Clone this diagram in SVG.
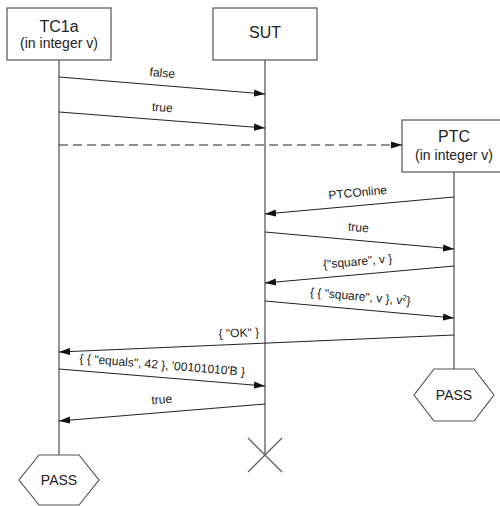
<svg xmlns="http://www.w3.org/2000/svg" width="500" height="506" viewBox="0 0 500 506">
<defs>
<marker id="ah" markerUnits="userSpaceOnUse" markerWidth="12" markerHeight="8" refX="11" refY="4" orient="auto">
<path d="M0,0.4 L11,4 L0,7.6 Z" fill="#111"/>
</marker>
<style>
.box{fill:#fff;stroke:#555;stroke-width:1.2}
.life{stroke:#666;stroke-width:1.4;fill:none}
.msg{stroke:#222;stroke-width:1;fill:none;marker-end:url(#ah)}
.dash{stroke-dasharray:9,5}
.t16{font-family:"Liberation Sans",Arial,sans-serif;font-size:16px;fill:#222;text-anchor:middle}
.t14{font-family:"Liberation Sans",Arial,sans-serif;font-size:14px;fill:#222;text-anchor:middle}
.lbl{font-family:"Liberation Sans",Arial,sans-serif;font-size:12px;fill:#222;text-anchor:middle}
</style>
</defs>
<rect width="500" height="506" fill="#fff"/>
<g id="lifelines">
<line class="life" x1="59" y1="60" x2="59" y2="455"/>
<line class="life" x1="265" y1="60" x2="265" y2="455"/>
<line class="life" x1="454" y1="172" x2="454" y2="369"/>
</g>
<g id="TC1a">
<rect class="box" x="7" y="8" width="104" height="52"/>
<text class="t16" x="59" y="32">TC1a</text>
<text class="t14" x="59" y="48">(in integer v)</text>
</g>
<g id="SUT">
<rect class="box" x="213" y="8" width="104" height="52"/>
<text class="t16" x="265" y="38">SUT</text>
</g>
<g id="PTC">
<rect class="box" x="402" y="120" width="104" height="52"/>
<text class="t16" x="454" y="142">PTC</text>
<text class="t14" x="454" y="160">(in integer v)</text>
</g>
<g id="SUT-stop">
<line class="life" x1="248" y1="438" x2="282" y2="472"/>
<line class="life" x1="282" y1="438" x2="248" y2="472"/>
</g>
<g id="PTC-PASS">
<polygon class="box" points="434,369 474,369 494,395 474,421 434,421 414,395"/>
<text class="t14" x="454" y="400">PASS</text>
</g>
<g id="TC1a-PASS">
<polygon class="box" points="39,455 79,455 99,480 79,505 39,505 19,480"/>
<text class="t14" x="59" y="485">PASS</text>
</g>
<g id="connectors">
<line class="msg" x1="59" y1="77" x2="265" y2="94"/>
<text class="lbl" x="162" y="77" transform="rotate(4.72 162 77)">false</text>
<line class="msg" x1="59" y1="112" x2="265" y2="128"/>
<text class="lbl" x="162" y="111.5" transform="rotate(4.5 162 111.5)">true</text>
<line class="msg dash" x1="59" y1="145" x2="402" y2="145"/>
<line class="msg" x1="454" y1="197" x2="265" y2="214"/>
<text class="lbl" x="358" y="196.5" transform="rotate(-5.14 358 196.5)">PTCOnline</text>
<line class="msg" x1="265" y1="232" x2="454" y2="249"/>
<text class="lbl" x="358" y="231.5" transform="rotate(5.14 358 231.5)">true</text>
<line class="msg" x1="454" y1="266" x2="265" y2="283"/>
<text class="lbl" x="358" y="265.5" transform="rotate(-5.14 358 265.5)">{"square", v }</text>
<line class="msg" x1="265" y1="301" x2="454" y2="318"/>
<text class="lbl" x="360" y="300.5" transform="rotate(5.14 360 300.5)">{ { "square", v }, v<tspan font-size="8" baseline-shift="super">2</tspan>}</text>
<line class="msg" x1="454" y1="335" x2="59" y2="352"/>
<text class="lbl" x="239" y="337" transform="rotate(-2.46 239 337)">{ "OK" }</text>
<line class="msg" x1="59" y1="369" x2="265" y2="386"/>
<text class="lbl" x="162" y="369" transform="rotate(4.72 162 369)">{ { "equals", 42 }, '00101010'B }</text>
<line class="msg" x1="265" y1="404" x2="59" y2="421"/>
<text class="lbl" x="162" y="403.5" transform="rotate(-4.72 162 403.5)">true</text>
</g>
</svg>
